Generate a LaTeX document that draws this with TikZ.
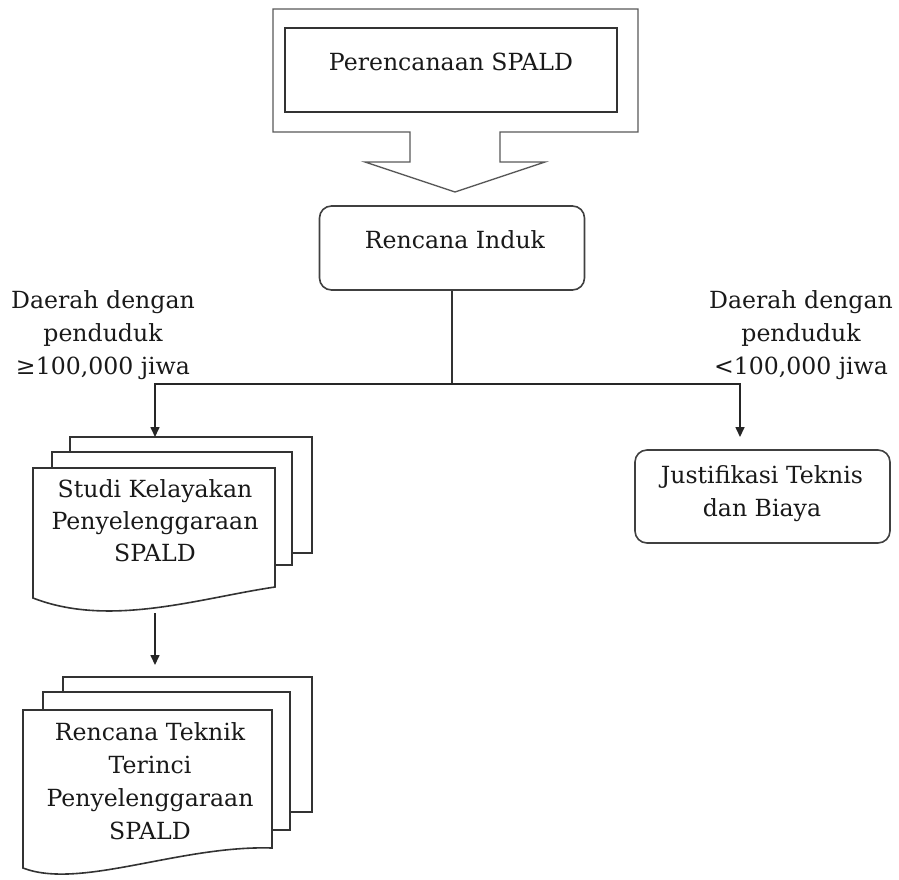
\documentclass[tikz,border=0pt]{standalone}
\usepackage{fontspec}
\setmainfont{DejaVu Serif}
\usetikzlibrary{arrows.meta}
\begin{document}
\begin{tikzpicture}[x=1pt,y=-1pt,
  ln/.style={draw=black!80,line width=1.6pt,line join=miter},
  bx/.style={draw=black!75,line width=1.6pt,rounded corners=12pt,fill=white},
  txt/.style={font=\fontsize{23.6}{33}\selectfont, align=center, inner sep=0pt, text=black!90},
  arr/.style={draw=black!85,line width=1.6pt,-{Triangle[width=9pt,length=10pt]}},
  ]
\useasboundingbox (0,0) rectangle (899,879);
% block arrow
\draw[draw=black!65,line width=1.3pt,fill=white] (273,9) -- (638,9) -- (638,132) -- (500,132) -- (500,162) -- (545,162) -- (455,192) -- (365,162) -- (410,162) -- (410,132) -- (273,132) -- cycle;
\draw[ln] (285,28) rectangle (617,112);
\node[txt,anchor=base] (plan) at (451,70) {Perencanaan SPALD};
% Rencana Induk
\node[bx,minimum width=265pt,minimum height=84pt] (ri) at (452,248) {};
\node[txt,anchor=base] (ritxt) at (455,248) {Rencana Induk};
% labels (base = last line)
\node[txt,anchor=base] (lbl1) at (103,374) {Daerah dengan\\penduduk\\≥100,000 jiwa};
\node[txt,anchor=base] (lbl2) at (801,374) {Daerah dengan\\penduduk\\<100,000 jiwa};
% Justifikasi
\node[bx,minimum width=255pt,minimum height=93pt] (just) at (762.5,496.5) {};
\node[txt,anchor=base] (justtxt) at (762,516) {Justifikasi Teknis\\dan Biaya};
% Studi Kelayakan stack
\draw[ln,fill=white] (70,437) rectangle (312,553);
\draw[ln,fill=white] (52,452) rectangle (292,565);
\draw[ln,fill=white] (33,598) -- (33,468) -- (275,468) -- (275,587) .. controls (200,598) and (110,628) .. (33,598) -- cycle;
\node[txt,anchor=base,font=\fontsize{23.6}{32}\selectfont] (studi) at (155,561) {Studi Kelayakan\\Penyelenggaraan\\SPALD};
% Rencana Teknik stack
\draw[ln,fill=white] (63,677) rectangle (312,812);
\draw[ln,fill=white] (43,692) rectangle (290,830);
\draw[ln,fill=white] (23,868) -- (23,710) -- (272,710) -- (272,848) .. controls (180,845) and (80,890) .. (23,868) -- cycle;
\node[txt,anchor=base] (rtt) at (150,839) {Rencana Teknik\\Terinci\\Penyelenggaraan\\SPALD};
% connectors
\coordinate (split) at (452,384);
\coordinate (s1in) at (155,437);
\coordinate (jin) at (740,437);
\coordinate (s1out) at (155,613);
\coordinate (s2in) at (155,665);
\draw[ln] (ri.south) -- (split);
\draw[arr] (split) -| (s1in);
\draw[arr] (split) -| (jin);
\draw[arr] (s1out) -- (s2in);
\end{tikzpicture}
\end{document}
